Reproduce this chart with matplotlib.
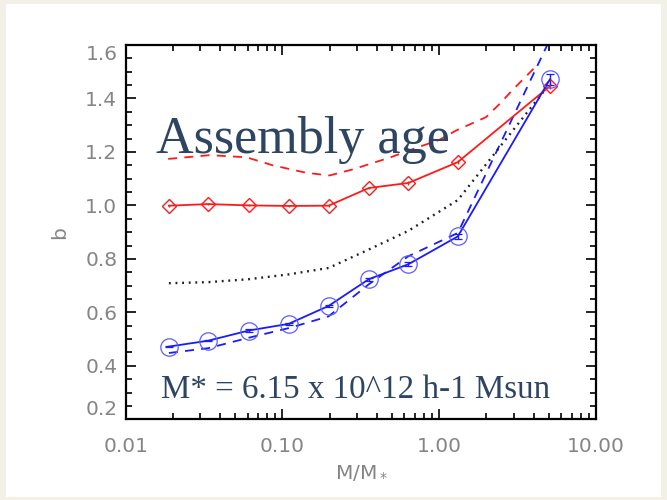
import matplotlib
matplotlib.use("Agg")
import matplotlib.pyplot as plt
from matplotlib.patches import Rectangle
from matplotlib.ticker import MultipleLocator, FixedLocator, NullFormatter

# halo mass in units of M* for each bin
mass = [0.01886, 0.0336, 0.0609, 0.1095, 0.1968, 0.3553, 0.6357, 1.3136, 5.074]

# bias of the oldest / youngest quartiles (assembly age split)
b_old = [0.999, 1.005, 1.000, 0.998, 0.999, 1.065, 1.084, 1.162, 1.446]
b_old_err = [0.004, 0.004, 0.004, 0.004, 0.004, 0.005, 0.006, 0.008, 0.012]
b_young = [0.472, 0.494, 0.532, 0.557, 0.624, 0.724, 0.780, 0.884, 1.471]
b_young_err = [0.003, 0.003, 0.004, 0.004, 0.005, 0.006, 0.007, 0.009, 0.022]

# full sample bias
b_all = [0.709, 0.713, 0.724, 0.742, 0.766, 0.835, 0.905, 1.020, 1.455]

# comparison curves
young_cmp = [0.448, 0.466, 0.505, 0.541, 0.585, 0.705, 0.810, 0.897, 1.620]
old_cmp_mass = [0.01866, 0.0344, 0.0589, 0.0867, 0.1419, 0.1995, 0.2818,
                0.4898, 0.7112, 1.0, 1.2794, 1.9861, 2.432, 2.917, 4.055]
old_cmp = [1.174, 1.188, 1.180, 1.150, 1.122, 1.112, 1.135, 1.180, 1.215,
           1.245, 1.280, 1.330, 1.380, 1.430, 1.515]

ytick_vals = [0.2, 0.4, 0.6, 0.8, 1.0, 1.2, 1.4, 1.6]
xtick_vals = [0.01, 0.1, 1.0, 10.0]
xtick_labels = ["0.01", "0.10", "1.00", "10.00"]

W, H = 667, 500
fig = plt.figure(figsize=(W / 100, H / 100), dpi=100)
fig.patch.set_facecolor("#f3f0e8")
fig.patches.append(Rectangle((6 / W, 3 / H), 655 / W, 493 / H,
                             transform=fig.transFigure, facecolor="white",
                             edgecolor="none", zorder=-10))

ax = fig.add_axes([125.7 / W, 1 - 419.3 / H, (596 - 125.7) / W, (419.3 - 45) / H])
ax.set_facecolor("white")
ax.set_xscale("log")
ax.set_xlim(0.01, 10)
ax.set_ylim(0.2, 1.6)

red = "#ff1a1a"
blue = "#1a1aff"

ax.plot(old_cmp_mass, old_cmp, color=red, lw=1.3, ls=(0, (5, 4)))
ax.plot(mass, young_cmp, color=blue, lw=1.3, ls=(0, (5, 4)))
ax.plot(mass, b_all, color="#222222", lw=1.7, ls=(0, (0.8, 2.0)))

ax.errorbar(mass, b_old, yerr=b_old_err, color=red, lw=1.3, capsize=0,
            marker="D", ms=7, mfc="none", mec=red, mew=1.0, elinewidth=1.0)
ax.errorbar(mass, b_young, yerr=b_young_err, color=blue, lw=1.3, capsize=3,
            marker="o", ms=12.5, mfc="none", mec="#5c5cff", mew=0.9,
            elinewidth=1.0)

ax.yaxis.set_major_locator(FixedLocator(ytick_vals))
ax.yaxis.set_minor_locator(MultipleLocator(0.05))
ax.xaxis.set_major_locator(FixedLocator(xtick_vals))
ax.set_xticklabels(xtick_labels)
ax.set_yticklabels([f"{v:.1f}" for v in ytick_vals])
ax.xaxis.set_minor_formatter(NullFormatter())

label_color = "#858585"
ax.tick_params(which="both", direction="in", top=True, right=True,
               width=1.2, colors="black", labelcolor=label_color,
               labelsize=14.5)
ax.tick_params(which="major", length=7.5)
ax.tick_params(which="minor", length=4.3)
ax.tick_params(axis="x", pad=13)
ax.tick_params(axis="y", pad=6)
for s in ax.spines.values():
    s.set_linewidth(1.6)

ylabels = ax.get_yticklabels()
ylabels[0].set_va("bottom")
ylabels[-1].set_va("top")

fig.text(60 / W, 1 - 233 / H, "b", rotation=90, ha="center", va="center",
         fontsize=14.5, color=label_color)
fig.text(362 / W, 1 - 473 / H, r"M/M$_*$", ha="center", va="center",
         fontsize=14.5, color=label_color)

title_color = "#2d4563"
fig.text(155.7 / W, 1 - 153 / H, "Assembly age", ha="left", va="baseline",
         fontsize=37.5, color=title_color, family="Liberation Serif")
fig.text(161 / W, 1 - 398 / H, "M* = 6.15 x 10^12 h-1 Msun", ha="left",
         va="baseline", fontsize=23.8, color=title_color,
         family="Liberation Serif")

fig.savefig("out.png", dpi=100, facecolor=fig.get_facecolor())
